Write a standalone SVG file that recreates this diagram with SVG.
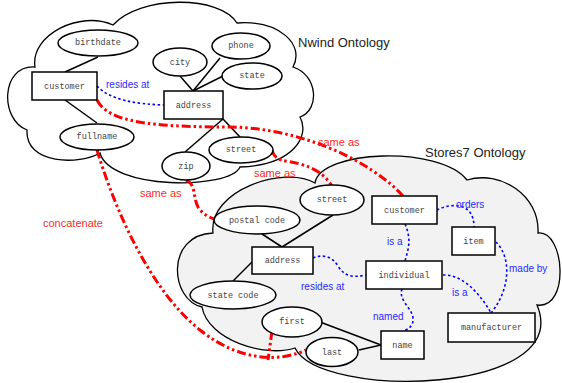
<svg xmlns="http://www.w3.org/2000/svg" width="562" height="383" viewBox="0 0 562 383">
<style>
.cloud{stroke:#000;stroke-width:1.3;}
.ent{fill:#fff;stroke:#000;stroke-width:1.5;}
.att{fill:#fff;stroke:#000;stroke-width:1.5;}
.nt{font-family:"Liberation Mono",monospace;font-size:8.5px;fill:#444;text-anchor:middle;dominant-baseline:central;}
.ln{stroke:#000;stroke-width:1.5;fill:none;}
.red{stroke:#ff0000;stroke-width:3;fill:none;stroke-dasharray:9 3 2.5 3 2.5 3;}
.blue{stroke:#0000ff;stroke-width:1.6;fill:none;stroke-dasharray:2.5 2.5;}
.rl{font-family:"Liberation Sans",Arial,sans-serif;font-size:11px;fill:#ff2a2a;}
.bl{font-family:"Liberation Sans",Arial,sans-serif;font-size:10px;fill:#2b2bff;}
.title{font-family:"Liberation Sans",Arial,sans-serif;font-size:13px;fill:#222;}
</style>
<g id="nwind-cloud">
<path class="cloud" fill="#fff" d="M35,67 C30,35 80,10 113,25 C140,-5 220,-5 237,23 C280,20 305,45 293,67 C318,75 320,110 300,117 C310,135 295,165 240,167 C230,190 110,190 100,153 C80,165 25,165 27,130 C0,120 0,65 35,67 Z"/>
<text class="title" x="298" y="47">Nwind Ontology</text>
</g>
<g id="stores7-cloud">
<path class="cloud" fill="#f2f2f2" d="M213,233 C208,190 285,165 315,183 C320,150 440,145 467,180 C500,170 540,195 538,233 C565,230 570,310 537,305 C575,395 320,400 295,348 C265,358 208,340 202,307 C170,300 165,235 213,233 Z"/>
<text class="title" x="425" y="156.5">Stores7 Ontology</text>
</g>
<g id="connectors">
<line class="ln" x1="65" y1="72" x2="98" y2="57"/>
<line class="ln" x1="65" y1="100" x2="97" y2="123"/>
<line class="ln" x1="180" y1="76" x2="193" y2="91"/>
<line class="ln" x1="220" y1="58" x2="193" y2="91"/>
<line class="ln" x1="223" y1="76" x2="193" y2="91"/>
<line class="ln" x1="223" y1="119" x2="185" y2="152"/>
<line class="ln" x1="223" y1="119" x2="240" y2="137"/>
<line class="ln" x1="262" y1="234" x2="282" y2="247"/>
<line class="ln" x1="333" y1="215" x2="282" y2="247"/>
<line class="ln" x1="233" y1="281" x2="252" y2="262"/>
<line class="ln" x1="320" y1="322" x2="381" y2="345"/>
<line class="ln" x1="359" y1="350" x2="381" y2="345"/>
<path class="blue" d="M97,86 C110,100 135,104 164,105"/>
<path class="blue" d="M437,210 C448,204 474,200 474,227"/>
<path class="blue" d="M405,224 C412,240 408,250 405,261"/>
<path class="blue" d="M313,258 C322,254 332,256 338,266 C344,276 352,278 366,275"/>
<path class="blue" d="M402,289 C398,300 412,308 413,318 C414,326 408,329 404,331"/>
<path class="blue" d="M443,275 C460,274 478,290 491,313"/>
<path class="blue" d="M496,242 C512,258 510,290 491,313"/>
<path class="red" d="M97,100 C108,122 150,127 230,127 C300,128 370,160 403,196"/>
<path class="red" d="M272,150 C275,162 285,160 300,164 C315,168 325,175 332,186"/>
<path class="red" d="M186,180 C196,184 193,198 198,207 C201,212 206,216 214,219"/>
<path class="red" d="M97,150 C115,210 150,290 200,330 C240,362 280,362 306,350"/>
<path class="red" d="M272,331 L268,360"/>
<text class="bl" x="106" y="88">resides at</text>
<text class="rl" x="318" y="146">same as</text>
<text class="rl" x="254" y="177">same as</text>
<text class="rl" x="140" y="197">same as</text>
<text class="rl" x="43" y="227">concatenate</text>
<text class="bl" x="456" y="208">orders</text>
<text class="bl" x="387" y="245">is a</text>
<text class="bl" x="301" y="290">resides at</text>
<text class="bl" x="373" y="320">named</text>
<text class="bl" x="452" y="296">is a</text>
<text class="bl" x="509" y="272">made by</text>
</g>
<g id="n-birthdate"><ellipse class="att" cx="98" cy="43" rx="40" ry="13"/><text class="nt" x="98" y="43">birthdate</text></g>
<g id="n-customer"><rect class="ent" x="32" y="72" width="65" height="28"/><text class="nt" x="64.5" y="87">customer</text></g>
<g id="n-fullname"><ellipse class="att" cx="97" cy="137" rx="37" ry="13"/><text class="nt" x="97" y="137">fullname</text></g>
<g id="n-city"><ellipse class="att" cx="180" cy="62" rx="27" ry="14"/><text class="nt" x="180" y="63">city</text></g>
<g id="n-phone"><ellipse class="att" cx="241" cy="46" rx="29" ry="13"/><text class="nt" x="241" y="46">phone</text></g>
<g id="n-state"><ellipse class="att" cx="252" cy="76" rx="30" ry="13"/><text class="nt" x="252" y="76">state</text></g>
<g id="n-address"><rect class="ent" x="164" y="91" width="59" height="28"/><text class="nt" x="193.5" y="106">address</text></g>
<g id="n-zip"><ellipse class="att" cx="186" cy="166" rx="24" ry="14"/><text class="nt" x="186" y="167">zip</text></g>
<g id="n-street"><ellipse class="att" cx="241" cy="150" rx="32" ry="13"/><text class="nt" x="241" y="150">street</text></g>
<g id="s-street"><ellipse class="att" cx="332" cy="200" rx="32" ry="15"/><text class="nt" x="332" y="200">street</text></g>
<g id="s-customer"><rect class="ent" x="372" y="196" width="65" height="28"/><text class="nt" x="404.5" y="211">customer</text></g>
<g id="s-item"><rect class="ent" x="452" y="227" width="43" height="28"/><text class="nt" x="473.5" y="242">item</text></g>
<g id="s-postal-code"><ellipse class="att" cx="257" cy="220" rx="43" ry="14"/><text class="nt" x="257" y="221">postal code</text></g>
<g id="s-address"><rect class="ent" x="252" y="247" width="61" height="27"/><text class="nt" x="282.5" y="261">address</text></g>
<g id="s-individual"><rect class="ent" x="366" y="261" width="76" height="28"/><text class="nt" x="404" y="276">individual</text></g>
<g id="s-state-code"><ellipse class="att" cx="233" cy="295" rx="43" ry="14"/><text class="nt" x="233" y="296">state code</text></g>
<g id="s-first"><ellipse class="att" cx="292" cy="322" rx="30" ry="15"/><text class="nt" x="292" y="322">first</text></g>
<g id="s-last"><ellipse class="att" cx="332" cy="352" rx="26" ry="14.5"/><text class="nt" x="332" y="353">last</text></g>
<g id="s-name"><rect class="ent" x="381" y="331" width="43" height="28"/><text class="nt" x="402.5" y="346">name</text></g>
<g id="s-manufacturer"><rect class="ent" x="448" y="313" width="87" height="29"/><text class="nt" x="491.5" y="328">manufacturer</text></g>
</svg>
